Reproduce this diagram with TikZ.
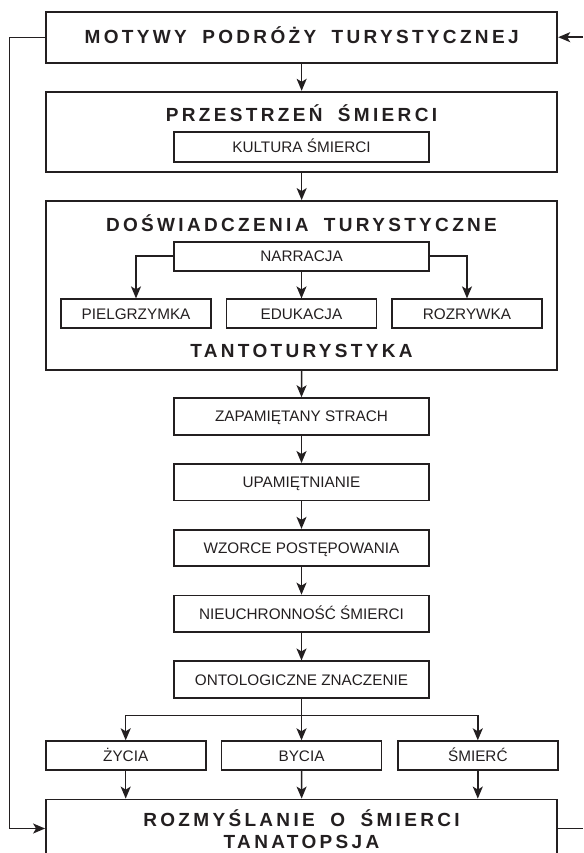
\documentclass[tikz,border=0pt]{standalone}
\usepackage{fontspec}
\setmainfont{Liberation Sans}
\newfontfamily\spacedfont[LetterSpace=17.5,WordSpace=1.8]{Liberation Sans}
\usetikzlibrary{arrows.meta}
\definecolor{ink}{HTML}{231F20}

\tikzset{
  frame/.style={draw=ink, line width=1.8pt, inner sep=0pt},
  bigbox/.style={frame, minimum width=511.3pt},
  plaintext/.style={font=\fontsize{15.3}{17}\selectfont, text=ink,
                    text height=10.9pt, text depth=-6pt},
  midbox/.style={frame, plaintext, minimum width=255pt, minimum height=36.5pt},
  subbox/.style={frame, plaintext, minimum width=150pt, minimum height=29pt},
  endbox/.style={frame, plaintext, minimum width=160pt, minimum height=29pt},
  headfont/.style={font=\spacedfont\bfseries\fontsize{19}{22}\selectfont, text=ink},
  headline/.style={headfont, inner sep=0pt, anchor=base},
  tip/.tip={Stealth[length=12pt,width=10pt,inset=3pt]},
  link/.style={draw=ink, line width=1.5pt, -tip},
  wire/.style={draw=ink, line width=1.5pt},
  loop/.style={draw=ink, line width=1.3pt}
}

\begin{document}
\begin{tikzpicture}[x=1pt, y=-1pt]
\useasboundingbox (0,0) rectangle (583,853);
\clip (0,0) rectangle (583,853);

% top: travel motives
\node[bigbox, minimum height=51pt, headfont, text height=13.6pt, text depth=0pt]
      (motywy) at (301.65,37.2) {MOTYWY PODRÓŻY TURYSTYCZNEJ};

% space of death
\node[bigbox, minimum height=80.6pt] (przestrzen) at (301.65,132) {};
\node[headline] (tprzestrzen) at (301.5,121.8) {PRZESTRZEŃ ŚMIERCI};
\node[midbox, minimum height=30pt] (kultura) at (301.5,146.7) {KULTURA ŚMIERCI};

% tourist experiences
\node[bigbox, minimum height=168.7pt] (doswiadczenia) at (301.65,285.35) {};
\node[headline] (tdoswiadczenia) at (301.5,231.3) {DOŚWIADCZENIA TURYSTYCZNE};
\node[midbox, minimum height=29pt] (narracja) at (301.5,256.2) {NARRACJA};
\node[subbox] (pielgrzymka) at (136,313.8) {PIELGRZYMKA};
\node[subbox] (edukacja) at (301.5,313.8) {EDUKACJA};
\node[subbox] (rozrywka) at (467,313.8) {ROZRYWKA};
\node[headline] (ttanto) at (301.5,357.8) {TANTOTURYSTYKA};

% chain of meanings
\node[midbox] (strach) at (301.5,416.4) {ZAPAMIĘTANY STRACH};
\node[midbox] (upamietnianie) at (301.5,482.2) {UPAMIĘTNIANIE};
\node[midbox] (wzorce) at (301.5,548) {WZORCE POSTĘPOWANIA};
\node[midbox] (nieuchronnosc) at (301.5,613.8) {NIEUCHRONNOŚĆ ŚMIERCI};
\node[midbox] (ontologiczne) at (301.5,679.6) {ONTOLOGICZNE ZNACZENIE};

\node[endbox] (zycia) at (125.7,755.7) {ŻYCIA};
\node[endbox] (bycia) at (301.5,755.7) {BYCIA};
\node[endbox] (smierc) at (477.8,755.7) {ŚMIERĆ};

% reflection on death
\node[bigbox, minimum height=58pt] (rozmyslanie) at (301.65,828.5) {};
\node[headline] (trozmyslanie) at (301.5,826.8) {ROZMYŚLANIE O ŚMIERCI};
\node[headline] (ttanatopsja) at (301.5,848.8) {TANATOPSJA};

% connectors
\draw[link] (motywy.south) -- (przestrzen.north);
\draw[link] (przestrzen.south) -- (doswiadczenia.north);
\draw[link] (narracja.west) -| (pielgrzymka.north);
\draw[link] (narracja.south) -- (edukacja.north);
\draw[link] (narracja.east) -| (rozrywka.north);
\draw[link] (doswiadczenia.south) -- (strach.north);
\draw[link] (strach.south) -- (upamietnianie.north);
\draw[link] (upamietnianie.south) -- (wzorce.north);
\draw[link] (wzorce.south) -- (nieuchronnosc.north);
\draw[link] (nieuchronnosc.south) -- (ontologiczne.north);

\coordinate (fork) at (301.5,715.7);
\draw[wire] (ontologiczne.south) -- (fork);
\draw[link] (fork) -| (zycia.north);
\draw[link] (fork) -- (bycia.north);
\draw[link] (fork) -| (smierc.north);

\draw[link] (zycia.south) -- (zycia.south |- rozmyslanie.north);
\draw[link] (bycia.south) -- (rozmyslanie.north);
\draw[link] (smierc.south) -- (smierc.south |- rozmyslanie.north);

% feedback loops along the edges
\coordinate (loopx) at (9.3,0);
\coordinate (edgetop) at (583,37.2);
\coordinate (edgebottom) at (583,828.5);
\draw[loop, -tip] (motywy.west) -- (motywy.west -| loopx) |- (rozmyslanie.west);
\draw[link] (edgetop) -- (motywy.east);
\draw[wire] (rozmyslanie.east) -- (edgebottom);
\end{tikzpicture}
\end{document}
